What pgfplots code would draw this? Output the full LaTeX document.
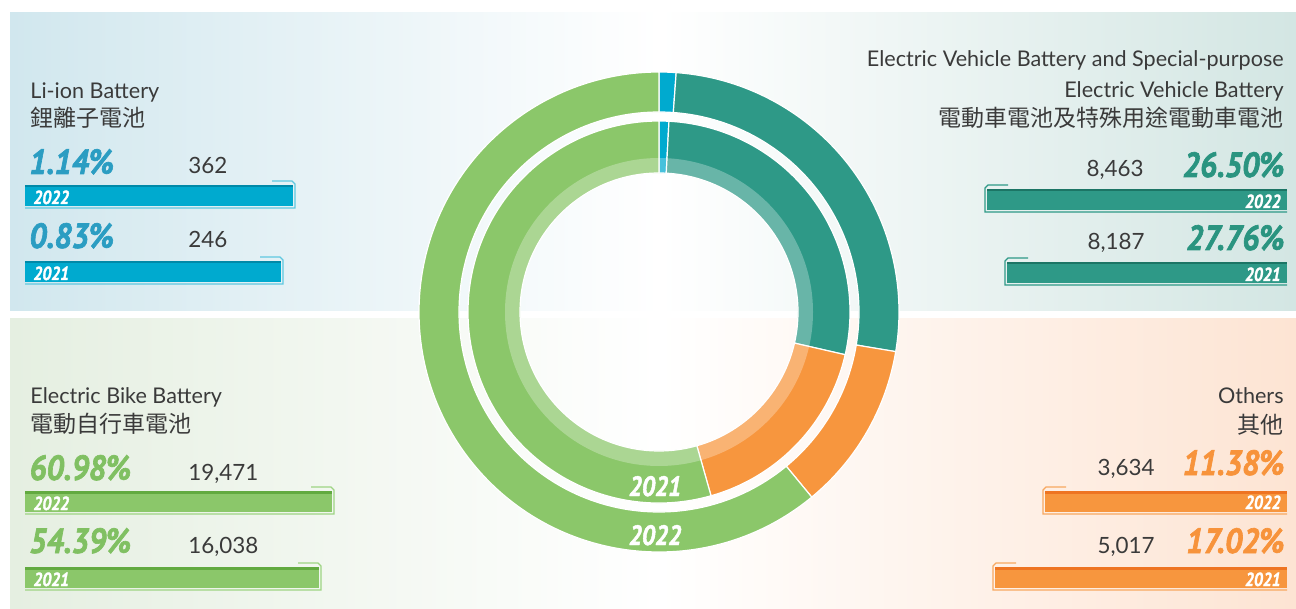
\documentclass[border=0pt]{standalone}
\usepackage{fontspec}
\setmainfont{Lato}
\newfontfamily\cjk{Noto Sans CJK TC}
\newfontfamily\pct{PT Sans}[FakeStretch=0.86, BoldItalicFeatures={FakeBold=1.6}]
\newfontfamily\pctw{PT Sans}[FakeStretch=0.9, BoldItalicFeatures={FakeBold=1.8}]
\usepackage{pgfplots}
\usepackage{pgfplotstable}
\pgfplotsset{compat=1.18}

\definecolor{txt}{HTML}{3A3A3A}
\definecolor{cLi}{HTML}{00AACF}\definecolor{cLiD}{HTML}{0089A8}\definecolor{cLiT}{HTML}{2B9DC2}\definecolor{cLiL}{HTML}{5FC8E0}
\definecolor{cEV}{HTML}{2E9987}\definecolor{cEVD}{HTML}{1C7565}\definecolor{cEVT}{HTML}{2A9480}\definecolor{cEVL}{HTML}{2E9987}
\definecolor{cOt}{HTML}{F7963E}\definecolor{cOtD}{HTML}{EE7422}\definecolor{cOtT}{HTML}{F7933B}\definecolor{cOtL}{HTML}{F7A860}
\definecolor{cEB}{HTML}{8BC76A}\definecolor{cEBD}{HTML}{62AA40}\definecolor{cEBT}{HTML}{80C062}\definecolor{cEBL}{HTML}{9ED483}
\definecolor{bgTL}{HTML}{D1E7EE}\definecolor{bgBL}{HTML}{E5EFE1}
\definecolor{bgTR}{HTML}{D3E6E3}\definecolor{bgBR}{HTML}{FDE4D3}

\newcommand\lab{\fontsize{10.8}{12}\selectfont\color{txt}}
\newcommand\cj{\cjk\fontsize{11.5}{13}\selectfont\color{txt}}
\newcommand\num{\fontsize{11.2}{13}\selectfont\color{txt}}
\newcommand\pcf{\pctw\bfseries\itshape\fontsize{17.5}{19}\selectfont}
\newcommand\yr{\pct\bfseries\itshape\fontsize{9.5}{11}\selectfont\color{white}}
\newcommand\dyr{\pct\bfseries\itshape\fontsize{14}{16}\selectfont\color{white}}

% share of each category (%), clockwise from the top
\pgfplotstableread{
cat    p22    p21
liion  1.14   0.83
ev     26.50  27.76
others 11.38  17.02
ebike  60.98  54.39
}\donutdata

\begin{document}
\begin{tikzpicture}
\begin{axis}[
  hide axis, scale only axis,
  width=648pt, height=304.5pt,
  xmin=0, xmax=1296, ymin=0, ymax=609,
  y dir=reverse,
]
% page and panels
\addplot[fill=white, draw=none] coordinates {(0,0) (1296,0) (1296,609) (0,609)} -- cycle;
\addplot[left color=bgTL, right color=white, draw=none] coordinates {(10,13) (659,13) (659,311) (10,311)} -- cycle;
\addplot[left color=bgBL, right color=white, draw=none] coordinates {(10,319) (659,319) (659,609) (10,609)} -- cycle;
\addplot[left color=white, right color=bgTR, draw=none] coordinates {(659,13) (1296,13) (1296,311) (659,311)} -- cycle;
\addplot[left color=white, right color=bgBR, draw=none] coordinates {(659,319) (1296,319) (1296,609) (659,609)} -- cycle;

% ---- bars: Li-ion
\addplot[fill=cLi, draw=none] coordinates {(25,185) (293,185) (293,206) (25,206)} -- cycle;
\addplot[fill=cLiD, draw=none] coordinates {(25,185) (293,185) (293,187.5) (25,187.5)} -- cycle;
\addplot[draw=cLiL, line width=0.6pt] coordinates {(272,181) (292,181) (295,184) (295,208) (25,208)};
\addplot[fill=cLi, draw=none] coordinates {(25,261) (281,261) (281,282) (25,282)} -- cycle;
\addplot[fill=cLiD, draw=none] coordinates {(25,261) (281,261) (281,263.5) (25,263.5)} -- cycle;
\addplot[draw=cLiL, line width=0.6pt] coordinates {(260,257) (280,257) (283,260) (283,284) (25,284)};
% ---- bars: E-bike
\addplot[fill=cEB, draw=none] coordinates {(25,491) (332,491) (332,512) (25,512)} -- cycle;
\addplot[fill=cEBD, draw=none] coordinates {(25,491) (332,491) (332,493.5) (25,493.5)} -- cycle;
\addplot[draw=cEBL, line width=0.6pt] coordinates {(311,487) (331,487) (334,490) (334,514) (25,514)};
\addplot[fill=cEB, draw=none] coordinates {(25,567) (319,567) (319,588) (25,588)} -- cycle;
\addplot[fill=cEBD, draw=none] coordinates {(25,567) (319,567) (319,569.5) (25,569.5)} -- cycle;
\addplot[draw=cEBL, line width=0.6pt] coordinates {(298,563) (318,563) (321,566) (321,590) (25,590)};
% ---- bars: EV
\addplot[fill=cEV, draw=none] coordinates {(987,189) (1287,189) (1287,210) (987,210)} -- cycle;
\addplot[fill=cEVD, draw=none] coordinates {(987,189) (1287,189) (1287,191.5) (987,191.5)} -- cycle;
\addplot[draw=cEVL, line width=0.6pt] coordinates {(1008,185) (988,185) (985,188) (985,212) (1287,212)};
\addplot[fill=cEV, draw=none] coordinates {(1007,262) (1287,262) (1287,283) (1007,283)} -- cycle;
\addplot[fill=cEVD, draw=none] coordinates {(1007,262) (1287,262) (1287,264.5) (1007,264.5)} -- cycle;
\addplot[draw=cEVL, line width=0.6pt] coordinates {(1028,258) (1008,258) (1005,261) (1005,285) (1287,285)};
% ---- bars: Others
\addplot[fill=cOt, draw=none] coordinates {(1045,491) (1287,491) (1287,512) (1045,512)} -- cycle;
\addplot[fill=cOtD, draw=none] coordinates {(1045,491) (1287,491) (1287,493.5) (1045,493.5)} -- cycle;
\addplot[draw=cOtL, line width=0.6pt] coordinates {(1066,487) (1046,487) (1043,490) (1043,514) (1287,514)};
\addplot[fill=cOt, draw=none] coordinates {(995,567) (1287,567) (1287,588) (995,588)} -- cycle;
\addplot[fill=cOtD, draw=none] coordinates {(995,567) (1287,567) (1287,569.5) (995,569.5)} -- cycle;
\addplot[draw=cOtL, line width=0.6pt] coordinates {(1016,563) (996,563) (993,566) (993,590) (1287,590)};

% ---- donut
\pgfplotsextra{
  \gdef\cum{0}
  \foreach \i/\col in {0/cLi,1/cEV,2/cOt,3/cEB}{
    \pgfplotstablegetelem{\i}{p22}\of\donutdata
    \pgfmathsetmacro\s{90-3.6*\cum}
    \pgfmathsetmacro\e{90-3.6*(\cum+\pgfplotsretval)}
    \pgfmathsetmacro\nc{\cum+\pgfplotsretval}
    \global\let\cum\nc
    \fill[\col, draw=white, line width=0.6pt]
      ([shift={(\s:120pt)}]axis cs:659,312) arc[start angle=\s, end angle=\e, radius=120pt]
      -- ([shift={(\e:100pt)}]axis cs:659,312) arc[start angle=\e, end angle=\s, radius=100pt] -- cycle;
  }
  \gdef\cum{0}
  \foreach \i/\col in {0/cLi,1/cEV,2/cOt,3/cEB}{
    \pgfplotstablegetelem{\i}{p21}\of\donutdata
    \pgfmathsetmacro\s{90-3.6*\cum}
    \pgfmathsetmacro\e{90-3.6*(\cum+\pgfplotsretval)}
    \pgfmathsetmacro\nc{\cum+\pgfplotsretval}
    \global\let\cum\nc
    \fill[\col, draw=white, line width=0.6pt]
      ([shift={(\s:95.5pt)}]axis cs:659,312) arc[start angle=\s, end angle=\e, radius=95.5pt]
      -- ([shift={(\e:69.5pt)}]axis cs:659,312) arc[start angle=\e, end angle=\s, radius=69.5pt] -- cycle;
  }
  \fill[white, opacity=0.28, even odd rule] (axis cs:659,312) circle[radius=77pt] (axis cs:659,312) circle[radius=69.5pt];
}
\node[anchor=base, inner sep=0] at (axis cs:655,496) {\dyr 2021};
\node[anchor=base, inner sep=0] at (axis cs:655,545) {\dyr 2022};

% ---- texts: Li-ion
\node[anchor=base west, inner sep=0] at (axis cs:30,99) {\lab Li-ion Battery};
\node[anchor=base west, inner sep=0] at (axis cs:30,127) {\cj 鋰離子電池};
\node[anchor=base west, inner sep=0] at (axis cs:29,174) {\pcf\color{cLiT}1.14\%};
\node[anchor=base west, inner sep=0] at (axis cs:188,174) {\num 362};
\node[anchor=base west, inner sep=0] at (axis cs:33,204) {\yr 2022};
\node[anchor=base west, inner sep=0] at (axis cs:29,248) {\pcf\color{cLiT}0.83\%};
\node[anchor=base west, inner sep=0] at (axis cs:188,248) {\num 246};
\node[anchor=base west, inner sep=0] at (axis cs:33,280) {\yr 2021};
% ---- texts: E-bike
\node[anchor=base west, inner sep=0] at (axis cs:30,403) {\lab Electric Bike Battery};
\node[anchor=base west, inner sep=0] at (axis cs:30,432) {\cj 電動自行車電池};
\node[anchor=base west, inner sep=0] at (axis cs:29,480) {\pcf\color{cEBT}60.98\%};
\node[anchor=base west, inner sep=0] at (axis cs:188,480) {\num 19,471};
\node[anchor=base west, inner sep=0] at (axis cs:33,510) {\yr 2022};
\node[anchor=base west, inner sep=0] at (axis cs:29,553) {\pcf\color{cEBT}54.39\%};
\node[anchor=base west, inner sep=0] at (axis cs:188,553) {\num 16,038};
\node[anchor=base west, inner sep=0] at (axis cs:33,586) {\yr 2021};
% ---- texts: EV
\node[anchor=base east, inner sep=0] at (axis cs:1284,67) {\lab Electric Vehicle Battery and Special-purpose};
\node[anchor=base east, inner sep=0] at (axis cs:1284,98) {\lab Electric Vehicle Battery};
\node[anchor=base east, inner sep=0] at (axis cs:1284,127) {\cj 電動車電池及特殊用途電動車電池};
\node[anchor=base east, inner sep=0] at (axis cs:1285,177) {\pcf\color{cEVT}26.50\%};
\node[anchor=base east, inner sep=0] at (axis cs:1144,177) {\num 8,463};
\node[anchor=base east, inner sep=0] at (axis cs:1281,208) {\yr 2022};
\node[anchor=base east, inner sep=0] at (axis cs:1285,250) {\pcf\color{cEVT}27.76\%};
\node[anchor=base east, inner sep=0] at (axis cs:1145,250) {\num 8,187};
\node[anchor=base east, inner sep=0] at (axis cs:1281,281) {\yr 2021};
% ---- texts: Others
\node[anchor=base east, inner sep=0] at (axis cs:1284,403) {\lab Others};
\node[anchor=base east, inner sep=0] at (axis cs:1284,433) {\cj 其他};
\node[anchor=base east, inner sep=0] at (axis cs:1285,475) {\pcf\color{cOtT}11.38\%};
\node[anchor=base east, inner sep=0] at (axis cs:1155,475) {\num 3,634};
\node[anchor=base east, inner sep=0] at (axis cs:1281,509) {\yr 2022};
\node[anchor=base east, inner sep=0] at (axis cs:1285,553) {\pcf\color{cOtT}17.02\%};
\node[anchor=base east, inner sep=0] at (axis cs:1155,553) {\num 5,017};
\node[anchor=base east, inner sep=0] at (axis cs:1281,586) {\yr 2021};
\end{axis}
\end{tikzpicture}
\end{document}
